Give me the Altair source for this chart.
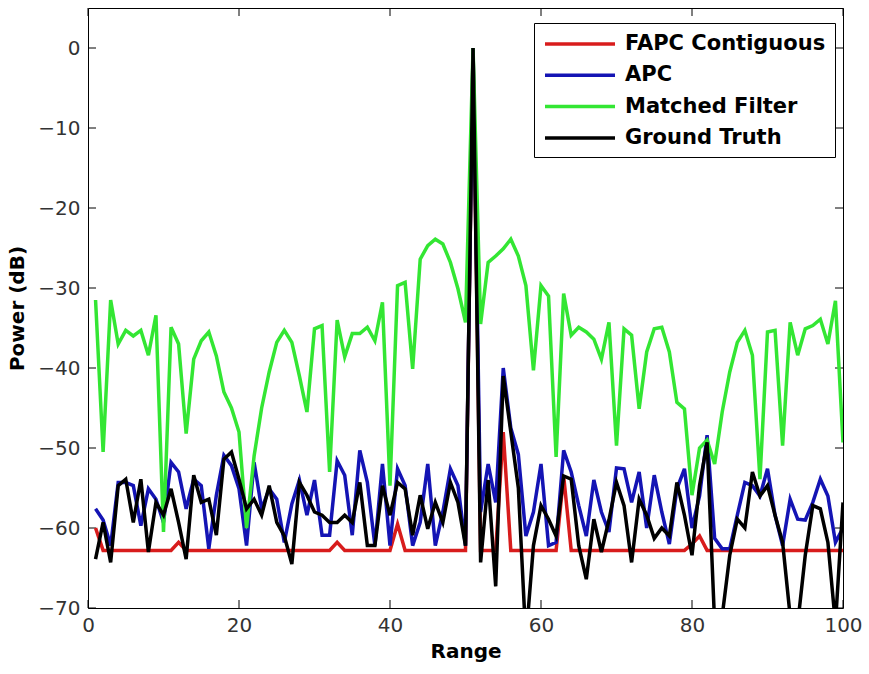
import altair as alt
import pandas as pd

# ---------------- data ----------------
x_range = list(range(1, 101))

fapc = [
    -60.0, -62.8, -62.8, -62.8, -62.8, -62.8, -62.8, -62.8, -62.8, -62.8,
    -62.8, -61.8, -62.8, -62.8, -62.8, -62.8, -62.8, -62.8, -62.8, -62.8,
    -62.8, -62.8, -62.8, -62.8, -62.8, -62.8, -62.8, -62.8, -62.8, -62.8,
    -62.8, -62.8, -61.8, -62.8, -62.8, -62.8, -62.8, -62.8, -62.8, -62.8,
    -59.5, -62.8, -62.8, -62.8, -62.8, -62.8, -62.8, -62.8, -62.8, -62.8,
    0.0, -62.8, -62.8, -62.8, -48.0, -62.8, -62.8, -62.8, -62.8, -62.8,
    -62.8, -62.8, -53.5, -62.8, -62.8, -62.8, -62.8, -62.8, -62.8, -62.8,
    -62.8, -62.8, -62.8, -62.8, -62.8, -62.8, -62.8, -62.8, -62.8, -62.0,
    -61.0, -62.8, -62.8, -62.8, -62.8, -62.8, -62.8, -62.8, -62.8, -62.8,
    -62.8, -62.8, -62.8, -62.8, -62.8, -62.8, -62.8, -62.8, -62.8, -62.8,
]

apc = [
    -57.6, -59.0, -62.2, -54.3, -54.3, -54.7, -59.7, -55.1, -56.4, -59.3,
    -51.8, -53.0, -57.6, -53.9, -54.7, -62.6, -55.9, -50.9, -52.2, -55.1,
    -62.2, -51.8, -57.6, -55.1, -56.4, -61.8, -57.0, -54.0, -58.4, -54.0,
    -60.9, -60.9, -51.6, -53.4, -60.9, -50.3, -54.3, -62.2, -52.0, -62.2,
    -52.6, -54.7, -62.2, -59.3, -52.0, -62.2, -58.0, -52.6, -54.7, -62.2,
    0.0, -58.0, -52.0, -56.8, -40.0, -47.5, -50.8, -61.0, -58.0, -52.0,
    -62.2, -61.8, -50.3, -53.0, -57.2, -61.0, -54.0, -58.0, -60.5, -52.5,
    -52.6, -56.8, -53.0, -60.0, -53.4, -58.0, -62.0, -55.1, -52.6, -60.0,
    -56.0, -48.4, -61.3, -62.6, -62.6, -58.4, -54.3, -54.7, -56.0, -52.6,
    -58.4, -62.2, -56.4, -58.9, -59.0, -56.8, -53.9, -56.0, -61.8, -60.0,
]

matched = [
    -31.5, -50.5, -31.5, -37.0, -35.3, -36.0, -35.3, -38.4, -33.4, -60.5,
    -34.9, -37.0, -48.2, -38.9, -36.6, -35.5, -38.5, -43.0, -45.0, -48.0,
    -60.0, -51.0, -45.0, -40.5, -36.8, -35.3, -36.8, -41.0, -45.5, -35.1,
    -34.7, -53.0, -34.0, -38.6, -35.7, -35.7, -34.9, -36.6, -31.8, -54.7,
    -29.7, -29.3, -40.1, -26.4, -24.7, -23.9, -24.5, -26.8, -30.1, -34.3,
    0.0, -34.5, -26.8, -26.0, -25.1, -23.9, -26.0, -29.7, -40.3, -29.7,
    -31.0, -51.1, -30.7, -35.9, -34.9, -35.5, -36.4, -38.9, -34.3, -49.7,
    -35.1, -35.9, -45.1, -38.0, -35.1, -34.9, -38.0, -44.3, -45.1, -55.9,
    -50.0, -49.0, -52.0, -45.5, -40.5, -36.8, -35.3, -38.4, -53.9, -35.5,
    -35.3, -49.7, -34.3, -38.4, -35.1, -34.7, -33.9, -37.0, -31.6, -49.3,
]

truth = [
    -63.9, -59.3, -64.3, -54.7, -53.9, -59.3, -53.9, -63.0, -56.8, -58.4,
    -55.1, -59.3, -63.9, -53.4, -56.8, -56.4, -60.9, -51.4, -50.5, -53.9,
    -57.6, -56.4, -58.4, -54.7, -59.3, -61.0, -64.5, -54.3, -55.9, -58.0,
    -58.4, -59.3, -59.3, -58.4, -59.3, -54.3, -62.2, -62.2, -54.7, -58.4,
    -54.3, -55.1, -60.9, -55.9, -60.1, -56.8, -59.3, -54.3, -56.8, -62.2,
    0.0, -64.3, -54.0, -67.3, -41.0, -48.0, -55.0, -74.0, -62.2, -57.2,
    -58.9, -61.0, -53.5, -53.9, -62.2, -66.4, -58.9, -63.0, -59.0, -54.3,
    -57.2, -64.3, -56.4, -58.4, -61.3, -60.0, -61.0, -54.3, -58.4, -63.4,
    -54.7, -49.3, -72.0, -71.0, -63.4, -58.9, -60.0, -53.0, -56.0, -54.7,
    -58.4, -61.8, -71.0, -72.0, -63.4, -57.2, -57.6, -61.8, -72.0, -56.8,
]

series_names = ["FAPC Contiguous", "APC", "Matched Filter", "Ground Truth"]
series_colors = ["#d81c1c", "#1414b4", "#33e633", "#000000"]
x_ticks = [0, 20, 40, 60, 80, 100]
y_ticks = [-70, -60, -50, -40, -30, -20, -10, 0]

# ---------------- build table ----------------
frames = []
for name, vals in zip(series_names, [fapc, apc, matched, truth]):
    frames.append(pd.DataFrame({"Range": x_range, "Power": vals, "Series": name}))
df = pd.concat(frames, ignore_index=True)

FONT = "DejaVu Sans"
x_scale = alt.Scale(domain=[0, 100], nice=False, zero=False)
y_scale = alt.Scale(domain=[-70, 5], nice=False, zero=False)
c_scale = alt.Scale(domain=series_names, range=series_colors)

x_axis = alt.Axis(values=x_ticks, tickSize=0, domain=False, grid=False, format="d",
                  labelFlush=False, labelOverlap=False,
                  labelFont=FONT, labelFontSize=20, labelColor="#333333", labelPadding=7,
                  title="Range", titleFont=FONT, titleFontSize=20, titleFontWeight="bold",
                  titleColor="black", titlePadding=6)
y_axis = alt.Axis(values=y_ticks, tickSize=0, domain=False, grid=False, format="d",
                  labelFlush=False, labelOverlap=False,
                  labelFont=FONT, labelFontSize=20, labelColor="#333333", labelPadding=8,
                  title="Power (dB)", titleFont=FONT, titleFontSize=20, titleFontWeight="bold",
                  titleColor="black", titlePadding=10)

X = alt.X("Range:Q", scale=x_scale, axis=x_axis)
Y = alt.Y("Power:Q", scale=y_scale, axis=y_axis)

legend = alt.Legend(orient="none", legendX=446, legendY=15, title=None,
                    symbolType="M-1,0H6", symbolSize=400, symbolStrokeWidth=3.5,
                    labelFont=FONT, labelFontSize=21, labelFontWeight="bold",
                    labelColor="black", labelOffset=58, labelLimit=500,
                    padding=9, rowPadding=9.3, strokeColor="black",
                    fillColor="white", cornerRadius=0)

# inner ticks (MATLAB style box with ticks on all four sides)
xt = pd.DataFrame({"Range": x_ticks})
yt = pd.DataFrame({"Power": y_ticks})
tick_style = dict(color="black", strokeWidth=1)
ticks_bottom = alt.Chart(xt).mark_rule(**tick_style).encode(x=X, y=alt.value(600), y2=alt.value(592))
ticks_top = alt.Chart(xt).mark_rule(**tick_style).encode(x=X, y=alt.value(0), y2=alt.value(8))
ticks_left = alt.Chart(yt).mark_rule(**tick_style).encode(y=Y, x=alt.value(0), x2=alt.value(8))
ticks_right = alt.Chart(yt).mark_rule(**tick_style).encode(y=Y, x=alt.value(755), x2=alt.value(747))

lines = []
for name in series_names:
    lines.append(
        alt.Chart(df)
        .transform_filter(alt.datum.Series == name)
        .mark_line(strokeWidth=3.5, clip=True)
        .encode(x=X, y=Y, color=alt.Color("Series:N", scale=c_scale, legend=legend))
    )

chart = (
    alt.layer(ticks_bottom, ticks_top, ticks_left, ticks_right, *lines)
    .properties(width=755, height=600,
                padding={"left": 88, "top": 8, "right": 26, "bottom": 66},
                autosize=alt.AutoSizeParams(type="none"))
    .configure(background="white")
    .configure_view(stroke="black", strokeWidth=1)
)

chart.save("out.html", embed_options={"renderer": "svg", "actions": False})
